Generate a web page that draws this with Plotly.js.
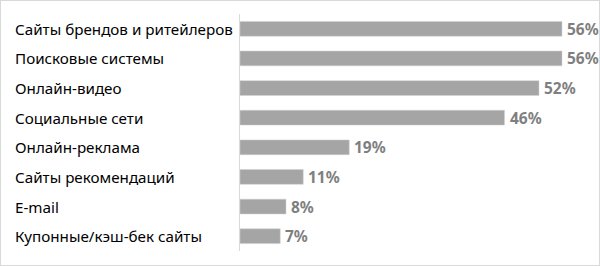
<!DOCTYPE html>
<html>
<head>
<meta charset="utf-8">
<script src="https://cdn.plot.ly/plotly-3.0.1.min.js"></script>
<style>
html,body{margin:0;padding:0;background:#fff;}
#frame{width:600px;height:266px;box-sizing:border-box;border:1px solid #D9D9D9;}
#chart{width:598px;height:264px;}
</style>
</head>
<body>
<div id="frame"><div id="chart"></div></div>
<script>
const categories = [
  "Сайты брендов и ритейлеров",
  "Поисковые системы",
  "Онлайн-видео",
  "Социальные сети",
  "Онлайн-реклама",
  "Сайты рекомендаций",
  "E-mail",
  "Купонные/кэш-бек сайты"
];
const values = [56, 56, 52, 46, 19, 11, 8, 7];
const valueLabels = values.map(v => v + "%");

const labelAnnotations = categories.map(c => ({
  x: -0.658, xref: "paper", y: c, yref: "y",
  text: c, showarrow: false, xanchor: "left", yanchor: "middle",
  font: {family: "Noto Sans, Open Sans, sans-serif", size: 15.2, color: "#000000"}
}));
const valueAnnotations = categories.map((c, i) => ({
  x: values[i], xref: "x", y: c, yref: "y",
  text: "<b>" + valueLabels[i] + "</b>", showarrow: false,
  xanchor: "left", yanchor: "middle", xshift: 3,
  font: {family: "Noto Sans, Open Sans, sans-serif", size: 15.5, color: "#7F7F7F"}
}));

Plotly.newPlot("chart", [{
  type: "bar",
  orientation: "h",
  x: values,
  y: categories,
  marker: {color: "#A5A5A5", line: {color: "#D0D0D0", width: 0.5}},
  hoverinfo: "none"
}], {
  width: 598, height: 264,
  margin: {l: 239, r: 14, t: 13, b: 14, pad: 0},
  paper_bgcolor: "#ffffff", plot_bgcolor: "#ffffff",
  bargap: 0.5,
  showlegend: false,
  xaxis: {range: [0, 60], visible: false, fixedrange: true},
  yaxis: {
    type: "category", autorange: "reversed",
    showticklabels: false, ticks: "",
    showline: true, linecolor: "#D9D9D9", linewidth: 1,
    showgrid: false, zeroline: false, fixedrange: true
  },
  annotations: labelAnnotations.concat(valueAnnotations)
}, {displayModeBar: false, staticPlot: true});
</script>
</body>
</html>
